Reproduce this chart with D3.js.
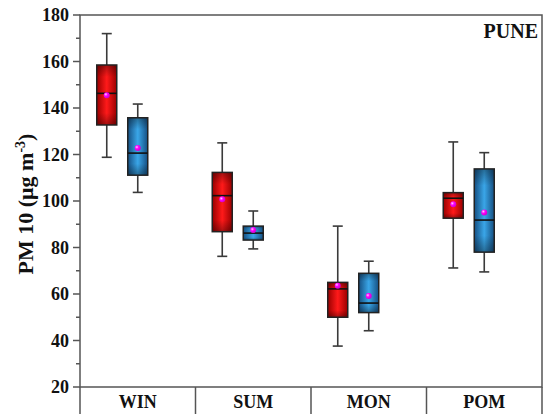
<!DOCTYPE html>
<html>
<head>
<meta charset="utf-8">
<script src="https://cdn.jsdelivr.net/npm/d3@7"></script>
<style>
  html, body { margin: 0; padding: 0; background: #fff; }
  svg { display: block; }
</style>
</head>
<body>
<div id="chart"></div>
<script>
/* ===== PM10 seasonal box plot (Pune) ===== */

const seasons = ['WIN', 'SUM', 'MON', 'POM'];
const yTicks = [20, 40, 60, 80, 100, 120, 140, 160, 180];

// [lowWhisker, q1, median, q3, highWhisker, mean]
const redSeries = [
  [118.8, 132.7, 146.3, 158.5, 172.0, 145.5],
  [76.2, 86.8, 102.3, 112.3, 125.0, 100.7],
  [37.6, 50.0, 62.2, 65.0, 89.2, 63.6],
  [71.2, 92.6, 101.2, 103.6, 125.4, 98.6]
];
const blueSeries = [
  [103.7, 111.1, 120.6, 135.8, 141.7, 122.8],
  [79.4, 83.2, 86.2, 89.2, 95.7, 87.5],
  [44.2, 52.0, 56.1, 68.9, 74.1, 59.1],
  [69.5, 78.0, 91.8, 113.8, 120.8, 95.1]
];

const W = 547, H = 414;
const margin = { top: 15, right: 5, bottom: 27, left: 80 };
const w = W - margin.left - margin.right;
const h = H - margin.top - margin.bottom;
const serif = '"Liberation Serif", "Times New Roman", serif';

const svg = d3.select('#chart').append('svg')
  .attr('width', W).attr('height', H);

const defs = svg.append('defs');

function shadeGradients(id, dark, light) {
  const gx = defs.append('linearGradient').attr('id', id + '-x')
    .attr('x1', 0).attr('y1', 0).attr('x2', 1).attr('y2', 0);
  gx.append('stop').attr('offset', '0%').attr('stop-color', dark);
  gx.append('stop').attr('offset', '50%').attr('stop-color', light);
  gx.append('stop').attr('offset', '100%').attr('stop-color', dark);
  const gy = defs.append('linearGradient').attr('id', id + '-y')
    .attr('x1', 0).attr('y1', 0).attr('x2', 0).attr('y2', 1);
  gy.append('stop').attr('offset', '0%').attr('stop-color', '#000').attr('stop-opacity', 0.35);
  gy.append('stop').attr('offset', '20%').attr('stop-color', '#000').attr('stop-opacity', 0);
  gy.append('stop').attr('offset', '80%').attr('stop-color', '#000').attr('stop-opacity', 0);
  gy.append('stop').attr('offset', '100%').attr('stop-color', '#000').attr('stop-opacity', 0.35);
}
shadeGradients('red', '#9a0000', '#ff1a1a');
shadeGradients('blue', '#154f82', '#3aa6e8');

const dot = defs.append('radialGradient').attr('id', 'dot-grad')
  .attr('cx', 0.35).attr('cy', 0.35).attr('r', 0.65);
dot.append('stop').attr('offset', '0%').attr('stop-color', '#ffd0ff');
dot.append('stop').attr('offset', '45%').attr('stop-color', '#ff00ff');
dot.append('stop').attr('offset', '100%').attr('stop-color', '#d000d0');

const g = svg.append('g')
  .attr('transform', `translate(${margin.left},${margin.top})`);

const x = d3.scaleBand().domain(seasons).range([0, w]).padding(0);
const y = d3.scaleLinear().domain([20, 180]).range([h, 0]);

// offsets of the two boxes within a band (blue sits on the band centre)
const sub = d3.scalePoint().domain(['red', 'blue']).range([-31, 0]);
const boxW = 20;
const capW = 10;

function drawBoxes(series, key) {
  const grp = g.append('g');
  series.forEach((d, i) => {
    const cx = x(seasons[i]) + x.bandwidth() / 2 + sub(key);
    const [lo, q1, med, q3, hi, mean] = d;
    const stroke = '#3a3a3a';
    // whiskers
    grp.append('line').attr('x1', cx).attr('x2', cx)
      .attr('y1', y(hi)).attr('y2', y(q3))
      .attr('stroke', stroke).attr('stroke-width', 1.6);
    grp.append('line').attr('x1', cx).attr('x2', cx)
      .attr('y1', y(q1)).attr('y2', y(lo))
      .attr('stroke', stroke).attr('stroke-width', 1.6);
    [hi, lo].forEach(v => {
      grp.append('line').attr('x1', cx - capW / 2).attr('x2', cx + capW / 2)
        .attr('y1', y(v)).attr('y2', y(v))
        .attr('stroke', stroke).attr('stroke-width', 1.6);
    });
    // box
    grp.append('rect').attr('x', cx - boxW / 2).attr('y', y(q3))
      .attr('width', boxW).attr('height', y(q1) - y(q3))
      .attr('fill', `url(#${key}-x)`);
    grp.append('rect').attr('x', cx - boxW / 2).attr('y', y(q3))
      .attr('width', boxW).attr('height', y(q1) - y(q3))
      .attr('fill', `url(#${key}-y)`)
      .attr('stroke', '#222').attr('stroke-width', 1.5);
    // median
    grp.append('line').attr('x1', cx - boxW / 2).attr('x2', cx + boxW / 2)
      .attr('y1', y(med)).attr('y2', y(med))
      .attr('stroke', '#111').attr('stroke-width', 1.6);
    // mean
    grp.append('circle').attr('cx', cx).attr('cy', y(mean)).attr('r', 3)
      .attr('fill', 'url(#dot-grad)');
  });
}
drawBoxes(redSeries, 'red');
drawBoxes(blueSeries, 'blue');

// Frame
const axisColor = '#555';
g.append('rect').attr('x', 0).attr('y', 0).attr('width', w).attr('height', h)
  .attr('fill', 'none').attr('stroke', axisColor).attr('stroke-width', 1.5);

// Y ticks: major + minor
g.selectAll('.minor').data(d3.range(30, 180, 20)).join('line')
  .attr('x1', -4).attr('x2', 0)
  .attr('y1', d => y(d)).attr('y2', d => y(d))
  .attr('stroke', axisColor).attr('stroke-width', 1.5);
g.selectAll('.major').data(yTicks).join('line')
  .attr('x1', -7).attr('x2', 0)
  .attr('y1', d => y(d)).attr('y2', d => y(d))
  .attr('stroke', axisColor).attr('stroke-width', 1.5);
g.selectAll('.ylab').data(yTicks).join('text')
  .attr('x', -11).attr('y', d => y(d)).attr('dy', '0.35em')
  .attr('text-anchor', 'end')
  .attr('font-family', serif).attr('font-weight', 'bold').attr('font-size', '18px')
  .attr('fill', '#111')
  .text(d => d);

// Y label
const yl = svg.append('text')
  .attr('transform', `translate(33,${margin.top + h / 2 + 3}) rotate(-90)`)
  .attr('text-anchor', 'middle')
  .attr('font-family', serif).attr('font-weight', 'bold').attr('font-size', '22px')
  .attr('fill', '#111');
yl.append('tspan').text('PM 10 (μg m');
yl.append('tspan').attr('dy', -8).attr('font-size', '14px').text('-3');
yl.append('tspan').attr('dy', 8).text(')');

// Category row below the axis
g.selectAll('.sep').data(seasons.concat(['end'])).join('line')
  .attr('x1', (d, i) => i * x.bandwidth()).attr('x2', (d, i) => i * x.bandwidth())
  .attr('y1', h).attr('y2', H - margin.top)
  .attr('stroke', axisColor).attr('stroke-width', 1.5);
g.selectAll('.xlab').data(seasons).join('text')
  .attr('x', d => x(d) + x.bandwidth() / 2)
  .attr('y', h + 21)
  .attr('text-anchor', 'middle')
  .attr('font-family', serif).attr('font-weight', 'bold').attr('font-size', '18px')
  .attr('fill', '#111')
  .text(d => d);

// City tag
g.append('text')
  .attr('x', w - 4).attr('y', 23)
  .attr('text-anchor', 'end')
  .attr('font-family', serif).attr('font-weight', 'bold').attr('font-size', '20px')
  .attr('fill', '#111')
  .text('PUNE');
</script>
</body>
</html>
